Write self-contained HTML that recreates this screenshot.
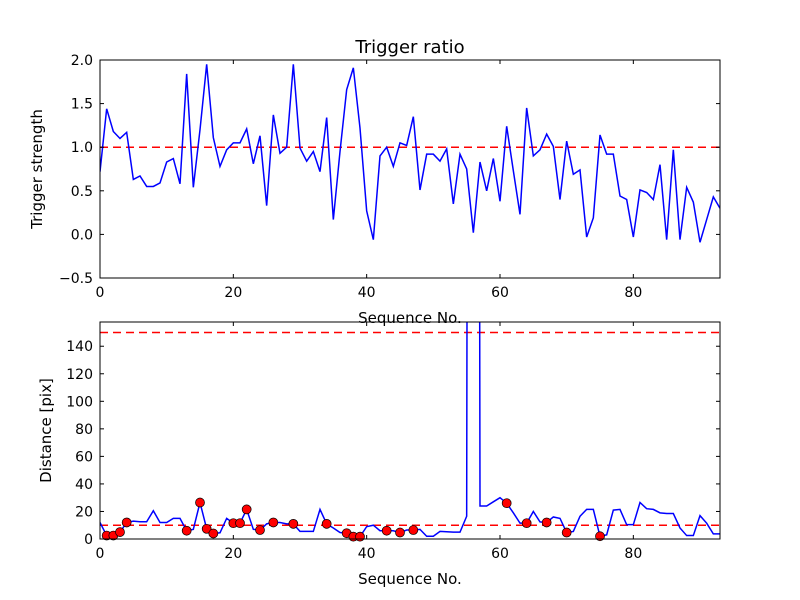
<!DOCTYPE html>
<html><head><meta charset="utf-8"><style>
html,body{margin:0;padding:0;background:#fff;}
svg{display:block;font-family:"DejaVu Sans","Liberation Sans",sans-serif;}
</style></head><body>
<svg id="chart" width="800" height="600" viewBox="0 0 800 600"></svg>
<script>
const ratioValues=[0.72,1.44,1.18,1.10,1.17,0.63,0.67,0.55,0.55,0.59,0.83,0.87,0.58,1.84,0.54,1.2,1.95,1.11,0.78,0.97,1.05,1.05,1.21,0.81,1.13,0.33,1.37,0.93,1.0,1.95,0.99,0.84,0.95,0.72,1.34,0.17,0.95,1.66,1.91,1.22,0.27,-0.06,0.90,1.0,0.78,1.05,1.02,1.35,0.51,0.92,0.92,0.84,0.98,0.35,0.92,0.75,0.02,0.83,0.50,0.87,0.38,1.24,0.73,0.23,1.45,0.90,0.97,1.15,1.01,0.40,1.07,0.69,0.74,-0.03,0.19,1.14,0.92,0.92,0.44,0.40,-0.03,0.51,0.48,0.40,0.80,-0.06,0.97,-0.06,0.54,0.37,-0.09,0.17,0.43,0.30];
const distValues=[12,2.5,2.5,5,12,13,12.5,12.5,20.5,12,12,15,15,6,7,26.5,7.4,4,4.5,15,11.5,11.5,21.5,7,6.5,11,12,12,11,11,5.5,5.5,5.5,21.5,11,8,4.7,4.2,1.7,1.7,9,10,6,6,6,4.7,6.5,6.5,7,2,2,5.5,5.3,5,5,16.5,3000,24,24,27,30,26,19,11.5,11.5,20,12.4,12,16,15,4.7,5.5,16.5,21.5,21.5,2,3,21,21.5,10.4,10.4,26.5,22,21.5,19,18.5,18.5,8,2.5,2.5,17,11.5,3.7,3.7];
const markerIdx=[1,2,3,4,13,15,16,17,20,21,22,24,26,29,34,37,38,39,43,45,47,61,64,67,70,75];
const xTicks=[0,20,40,60,80];
const ratioTicks=[-0.5,0.0,0.5,1.0,1.5,2.0];
const distTicks=[0,20,40,60,80,100,120,140];
const ratioThreshold=[1.0];
const distThresholds=[150,10];

const NS="http://www.w3.org/2000/svg";
const svg=document.getElementById('chart');
function mk(tag,attrs,parent){const e=document.createElementNS(NS,tag);for(const k in attrs)e.setAttribute(k,attrs[k]);(parent||svg).appendChild(e);return e;}
const X0=100,X1=720,XMAX=93;
const sx=v=>X0+(v/XMAX)*(X1-X0);

function panel(name,top,bottom,ymin,ymax,ticks,fmt,vals,thresholds,ylabel,markers,ylx){
  const sy=v=>bottom-(v-ymin)/(ymax-ymin)*(bottom-top);
  const g=mk('g',{});
  
  
  const cid='clip-'+name;
  const cp=mk('clipPath',{id:cid},g);
  mk('rect',{x:X0,y:top,width:X1-X0,height:bottom-top},cp);
  const plot=mk('g',{'clip-path':'url(#'+cid+')'},g);
  thresholds.forEach(t=>{
    const l=mk('line',{x1:X0,x2:X1,y1:sy(t),y2:sy(t),stroke:'#ff0000','stroke-width':1.5,'stroke-dasharray':'8,5'},plot);
    
    
  });
  const pts=vals.map((v,i)=>sx(i).toFixed(2)+','+sy(v).toFixed(2)).join(' ');
  const pl=mk('polyline',{points:pts,fill:'none',stroke:'#0000ff','stroke-width':1.5},plot);
  
  
  if(markers){markers.forEach(i=>{
    const c=mk('circle',{cx:sx(i),cy:sy(vals[i]),r:4.5,fill:'#ff0000',stroke:'#000','stroke-width':0.7},g);
    
    
  });}
  const fr=mk('rect',{x:X0,y:top,width:X1-X0,height:bottom-top,fill:'none',stroke:'#000','stroke-width':1},g);
  
  
  xTicks.forEach(t=>{
    const x=sx(t);
    mk('line',{x1:x,x2:x,y1:bottom,y2:bottom-4,stroke:'#000'},g);
    mk('line',{x1:x,x2:x,y1:top,y2:top+4,stroke:'#000'},g);
    const tx=mk('text',{x:x,y:bottom+19,'text-anchor':'middle','font-size':14},g);
    tx.textContent=t;
    
    
  });
  ticks.forEach(t=>{
    const y=sy(t);
    mk('line',{x1:X0,x2:X0+4,y1:y,y2:y,stroke:'#000'},g);
    mk('line',{x1:X1,x2:X1-4,y1:y,y2:y,stroke:'#000'},g);
    const tx=mk('text',{x:X0-7,y:y+5,'text-anchor':'end','font-size':14},g);
    tx.textContent=fmt(t);
    
    
  });
  const xl=mk('text',{x:(X0+X1)/2,y:bottom+45,'text-anchor':'middle','font-size':15},g);
  xl.textContent='Sequence No.';
  
  
  const cy=(top+bottom)/2;
  const yl=mk('text',{x:0,y:0,'text-anchor':'middle','font-size':15,transform:'translate('+ylx+','+cy+') rotate(-90)'},g);
  yl.textContent=ylabel;
  
  
}
const fmtR=t=>(t<0?'\u22120.5':t.toFixed(1));
panel('ratio',60,278,-0.5,2.0,ratioTicks,fmtR,ratioValues,ratioThreshold,'Trigger strength',null,42);
panel('distance',322,539,0,157.6,distTicks,t=>String(t),distValues,distThresholds,'Distance [pix]',markerIdx,51);
const title=mk('text',{x:410,y:53,'text-anchor':'middle','font-size':18});
title.textContent='Trigger ratio';


</script>
</body></html>
